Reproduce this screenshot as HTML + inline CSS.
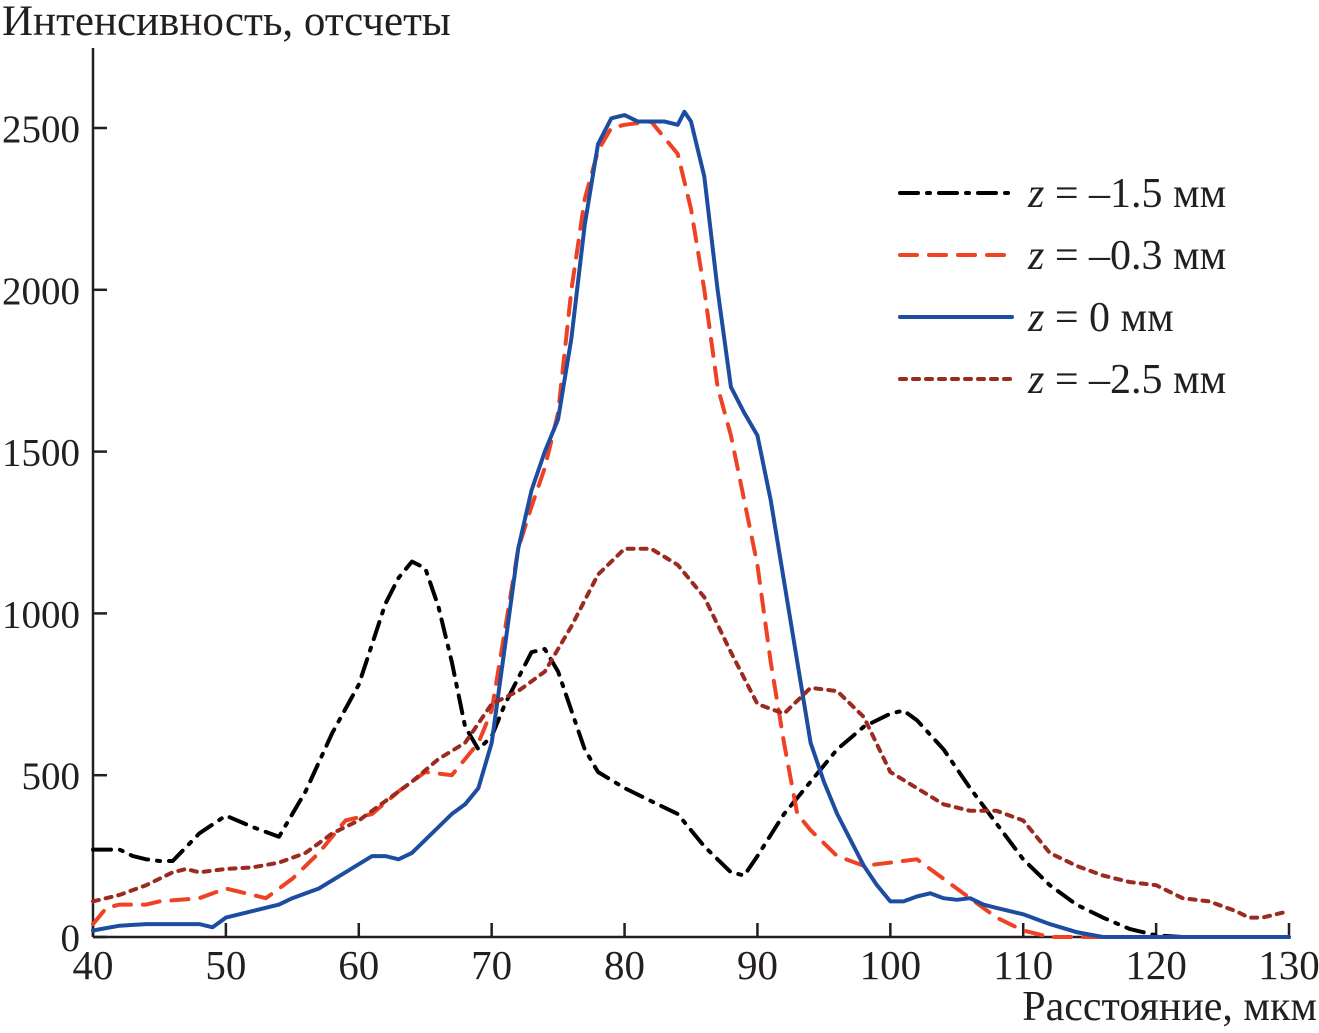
<!DOCTYPE html>
<html><head><meta charset="utf-8"><style>
body{margin:0;background:#fff}
svg{display:block}
text{font-family:"Liberation Serif",serif;fill:#231f20}
</style></head><body>
<svg id="chart" width="1319" height="1033" viewBox="0 0 1319 1033">
<g id="axes"></g>
<g id="series"></g>
<g id="legend"></g>
</svg>
<script>
const xTicks=[40,50,60,70,80,90,100,110,120,130];
const yTicks=[0,500,1000,1500,2000,2500];
const s1x=[40,42,43,44,45,46,48,50,52,54,56,58,60,62,63,64,65,66,67,68,69,70,71,72,73,74,75,76,77,78,80,82,84,86,88,89,90,92,94,96,98,100,101,102,104,106,108,110,112,114,116,118,120,122];
const s1y=[270,270,250,240,235,235,320,375,340,310,450,630,780,1030,1110,1160,1140,1020,850,650,580,620,720,800,880,890,820,700,580,510,460,420,380,280,200,190,250,380,480,580,650,690,700,670,580,460,350,240,160,100,60,25,5,0];
const s2x=[40,41,42,44,45,48,50,52,53,55,57,59,61,63,65,67,69,70,71,72,73,74,75,76,77,78,79,80,82,84,85,86,87,88,89,90,91,92,93,94,96,98,100,102,104,106,108,110,112,130];
const s2y=[40,90,100,100,110,120,150,130,120,180,260,360,380,450,510,500,600,700,950,1200,1330,1450,1620,2000,2280,2430,2500,2510,2520,2420,2250,2000,1700,1550,1350,1150,850,600,380,330,250,220,230,240,180,120,60,20,0,0];
const s3x=[40,42,44,46,48,49,50,52,54,55,57,59,61,62,63,64,66,67,68,69,70,71,72,73,74,75,76,77,78,79,80,81,83,84,84.5,85,86,87,88,89,90,91,92,93,94,95,96,97,98,99,100,101,102,103,104,105,106,107,108,110,112,114,116,130];
const s3y=[20,35,40,40,40,30,60,80,100,120,150,200,250,250,240,260,340,380,410,460,600,900,1200,1380,1500,1600,1850,2200,2450,2530,2540,2520,2520,2510,2550,2520,2350,2000,1700,1620,1550,1350,1100,850,600,480,380,300,220,160,110,110,125,135,120,115,120,100,90,70,40,15,0,0];
const s4x=[40,42,44,46,47,48,50,52,54,56,58,60,62,64,66,68,70,72,74,76,78,80,82,84,86,88,90,92,94,96,98,100,102,104,106,108,110,112,114,116,118,120,122,124,126,127,128,130];
const s4y=[110,130,160,200,210,200,210,215,230,260,320,360,420,480,550,600,720,760,820,960,1120,1200,1200,1150,1050,880,720,690,770,760,680,510,460,410,390,390,360,260,220,190,170,160,120,110,80,60,60,80];
const X0=93,X1=1289,Y0=937,Y1=128;
const sx=v=>X0+(v-40)*(X1-X0)/90;
const sy=v=>Y0-v*(Y0-Y1)/2500;
const NS="http://www.w3.org/2000/svg";
function mk(tag,attrs,parent,txt){const e=document.createElementNS(NS,tag);for(const k in attrs)e.setAttribute(k,attrs[k]);if(txt!==undefined)e.textContent=txt;parent.appendChild(e);return e;}
const axes=document.getElementById('axes');
let l=mk('line',{x1:X0,y1:48,x2:X0,y2:Y0,stroke:'#231f20','stroke-width':2.5},axes);


l=mk('line',{x1:X0,y1:Y0,x2:X1,y2:Y0,stroke:'#231f20','stroke-width':2.5},axes);


xTicks.forEach(v=>{const x=sx(v);
 const t=mk('line',{x1:x,y1:Y0,x2:x,y2:Y0-14,stroke:'#231f20','stroke-width':2.5},axes);
 
 
 const tx=mk('text',{x:x,y:979,'text-anchor':'middle','font-size':41},axes,String(v));
 
 });
yTicks.forEach(v=>{const y=sy(v);
 const t=mk('line',{x1:X0,y1:y,x2:X0+14,y2:y,stroke:'#231f20','stroke-width':2.5},axes);
 
 
 const tx=mk('text',{x:80,y:y+14,'text-anchor':'end','font-size':39},axes,String(v));
 
 });
let tt=mk('text',{x:2,y:35,'font-size':43},axes,'Интенсивность, отсчеты');


tt=mk('text',{x:1317,y:1020,'text-anchor':'end','font-size':42},axes,'Расстояние, мкм');


const series=[
 {xs:s1x,ys:s1y,c:'#000',d:'18 9 3 9',w:4,lab:'z = –1.5 мм',n:'series-z-minus-1-5'},
 {xs:s2x,ys:s2y,c:'#ef4123',d:'17 12',w:4,lab:'z = –0.3 мм',n:'series-z-minus-0-3'},
 {xs:s3x,ys:s3y,c:'#1d4da1',d:'none',w:4,lab:'z = 0 мм',n:'series-z-0'},
 {xs:s4x,ys:s4y,c:'#9b2a20',d:'6 7',w:4,lab:'z = –2.5 мм',n:'series-z-minus-2-5'}];
const sg=document.getElementById('series'),lg=document.getElementById('legend');
series.forEach((s,i)=>{
 const d=s.xs.map((x,j)=>(j?'L':'M')+sx(x).toFixed(1)+' '+sy(s.ys[j]).toFixed(1)).join(' ');
 const p=mk('path',{d:d,fill:'none',stroke:s.c,'stroke-width':s.w,'stroke-dasharray':s.d,'stroke-linejoin':'round','stroke-linecap':'round'},sg);
 
 
 const ly=193+i*62;
 const g=mk('g',{},lg);
 
 
 mk('line',{x1:900,y1:ly,x2:1012,y2:ly,stroke:s.c,'stroke-width':s.w,'stroke-dasharray':s.d,'stroke-linecap':'round'},g);
 const t=mk('text',{x:1028,y:ly+14,'font-size':42},g);
 mk('tspan',{'font-style':'italic'},t,'z');
 mk('tspan',{},t,s.lab.slice(1));
});
</script>
</body></html>
